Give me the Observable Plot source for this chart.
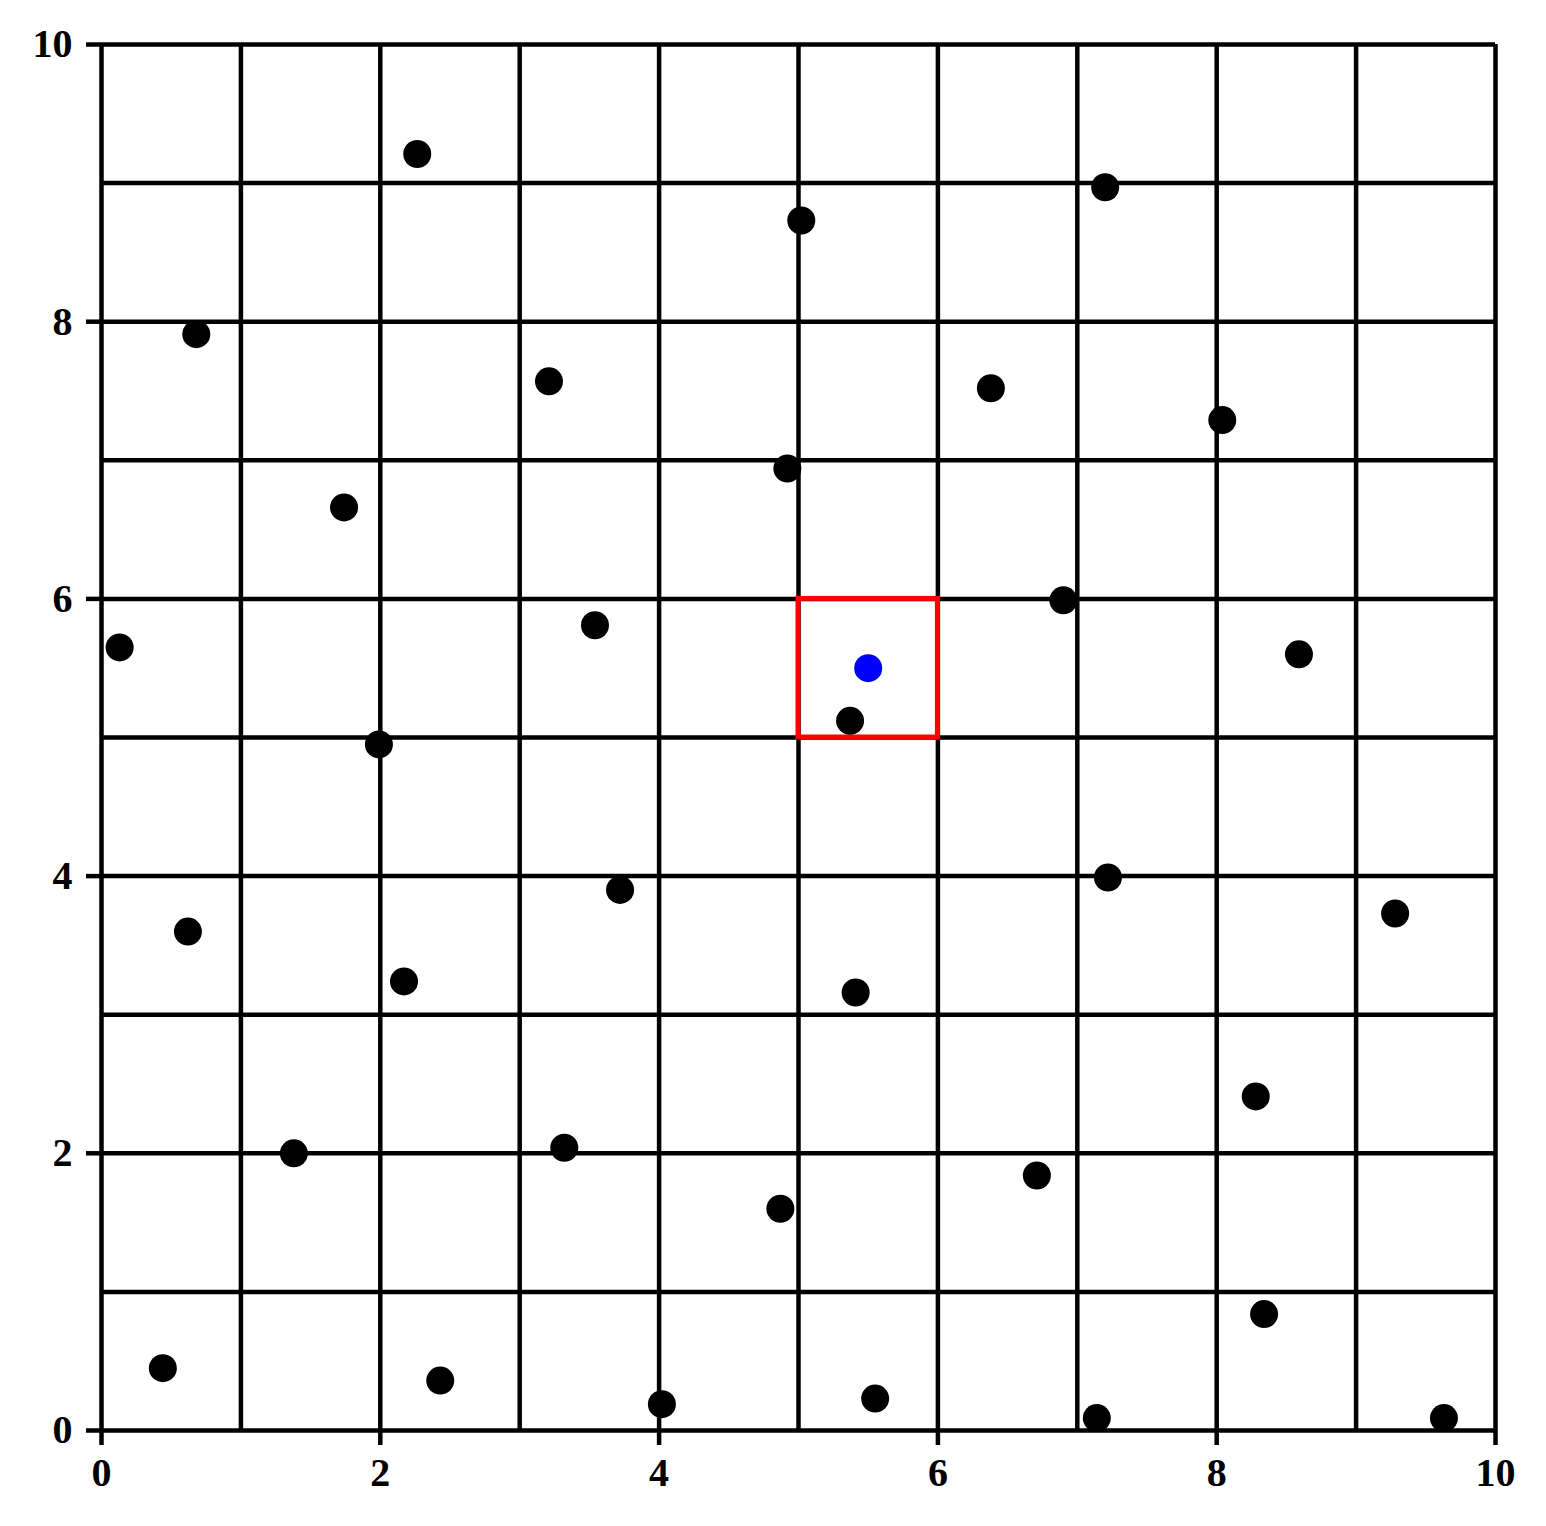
<!DOCTYPE html>
<html>
<head>
<meta charset="utf-8">
<script src="https://cdn.jsdelivr.net/npm/d3@7"></script>
<script src="https://cdn.jsdelivr.net/npm/@observablehq/plot@0.6"></script>
<style>
  html, body { margin: 0; padding: 0; background: #fff; }
  #chart svg { display: block; }
  #chart svg text { font-family: "Liberation Serif", "Times New Roman", Tinos, Times, serif !important; font-weight: bold; }
</style>
</head>
<body>
<div id="chart"></div>
<script>
// Black points
const pointX = [2.265, 7.20, 5.02, 0.68, 3.21, 6.38, 8.04, 4.92, 1.74, 6.90, 0.13, 3.54, 8.59, 5.37, 1.99, 7.22, 3.72, 9.28, 0.62, 2.17, 5.41, 8.28, 1.38, 3.32, 6.71, 4.87, 8.34, 0.44, 2.43, 4.02, 5.55, 7.14, 9.63];
const pointY = [9.21, 8.97, 8.73, 7.91, 7.57, 7.52, 7.29, 6.94, 6.66, 5.99, 5.65, 5.81, 5.60, 5.12, 4.95, 3.99, 3.90, 3.73, 3.60, 3.24, 3.16, 2.41, 2.00, 2.04, 1.84, 1.60, 0.84, 0.45, 0.36, 0.19, 0.23, 0.09, 0.09];
// Highlighted point
const targetX = [5.5];
const targetY = [5.5];
// Highlighted cell
const cellX = [5, 6];
const cellY = [5, 6];
// Grid and ticks
const gridValues = [0, 1, 2, 3, 4, 5, 6, 7, 8, 9, 10];
const tickValues = [0, 2, 4, 6, 8, 10];

const points = pointX.map((x, i) => ({x, y: pointY[i]}));
const target = targetX.map((x, i) => ({x, y: targetY[i]}));
const cell = [{x1: cellX[0], x2: cellX[1], y1: cellY[0], y2: cellY[1]}];

const chart = Plot.plot({
  width: 1546,
  height: 1526,
  marginLeft: 101,
  marginRight: 51,
  marginTop: 44,
  marginBottom: 96,
  style: {fontFamily: "'Liberation Serif', 'Times New Roman', serif", fontWeight: "bold", fontSize: "40px", color: "black", background: "white"},
  x: {domain: [0, 10]},
  y: {domain: [0, 10]},
  marks: [
    Plot.ruleX(gridValues, {x: d => d, stroke: "black", strokeWidth: 4.5}),
    Plot.ruleY(gridValues, {y: d => d, stroke: "black", strokeWidth: 4.5}),
    Plot.axisX({ticks: tickValues, tickSize: 15, tickPadding: 12, tickFormat: d => String(d), label: null, strokeWidth: 4.5, strokeOpacity: 1, fontSize: 40}),
    Plot.axisY({ticks: tickValues, tickSize: 15, tickPadding: 14, tickFormat: d => String(d), label: null, strokeWidth: 4.5, strokeOpacity: 1, fontSize: 40}),
    Plot.rect(cell, {x1: "x1", x2: "x2", y1: "y1", y2: "y2", fill: "none", stroke: "red", strokeWidth: 5}),
    Plot.dot(points, {x: "x", y: "y", r: 14, fill: "black", stroke: "none"}),
    Plot.dot(target, {x: "x", y: "y", r: 14, fill: "blue", stroke: "none"})
  ]
});
document.getElementById("chart").appendChild(chart);
</script>
</body>
</html>
